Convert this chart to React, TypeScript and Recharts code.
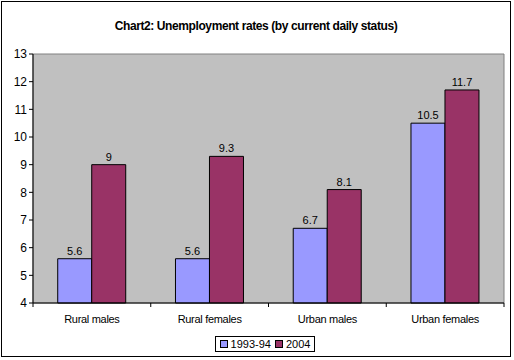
import { BarChart, Bar, XAxis, YAxis, CartesianGrid, ReferenceArea, Legend, LabelList } from "recharts";

const categories = ["Rural males", "Rural females", "Urban males", "Urban females"];
const rates1993 = [5.6, 5.6, 6.7, 10.5];
const rates2004 = [9, 9.3, 8.1, 11.7];
const yTicks = [4, 5, 6, 7, 8, 9, 10, 11, 12, 13];
const seriesNames = ["1993-94", "2004"];
const colors = ["#9999FF", "#993366"];

const data = categories.map((name, i) => ({ name, a: rates1993[i], b: rates2004[i] }));

const FONT = "Arial, 'Liberation Sans', sans-serif";
const PLOT_W = 471;

// category tick with the tick marks drawn at the category boundaries like Excel does
function CatTick(props: any) {
  const { x, y, payload, index } = props;
  const half = PLOT_W / categories.length / 2;
  return (
    <g>
      <line x1={x - half} x2={x - half} y1={y - 8} y2={y - 4} stroke="#000" />
      {index === categories.length - 1 && (
        <line x1={x + half} x2={x + half} y1={y - 8} y2={y - 4} stroke="#000" />
      )}
      <text x={x} y={y + 12} textAnchor="middle" fontSize={11} fontFamily={FONT} fill="#000" letterSpacing={-0.3}>
        {payload.value}
      </text>
    </g>
  );
}

function LegendBox() {
  return (
    <div style={{ display: "flex", justifyContent: "center", paddingLeft: 24 }}>
      <div
        style={{
          border: "1px solid #000",
          padding: "0px 4px",
          display: "flex",
          alignItems: "center",
          gap: 4,
          fontSize: 11,
          fontFamily: FONT,
          lineHeight: "14px",
        }}
      >
        {seriesNames.map((s, i) => (
          <span key={s} style={{ display: "flex", alignItems: "center", gap: 3 }}>
            <span style={{ width: 6, height: 6, background: colors[i], border: "1px solid #000", display: "inline-block" }} />
            {s}
          </span>
        ))}
      </div>
    </div>
  );
}

export default function App() {
  return (
    <div
      style={{
        position: "absolute",
        left: 1,
        top: 1,
        width: 508,
        height: 354,
        border: "1px solid #000",
        background: "#fff",
      }}
    >
      <div
        style={{
          position: "absolute",
          top: 17,
          width: "100%",
          textAlign: "center",
          fontFamily: FONT,
          fontWeight: "bold",
          fontSize: 12,
          letterSpacing: -0.4,
        }}
      >
        Chart2: Unemployment rates (by current daily status)
      </div>
      <BarChart
        width={508}
        height={354}
        data={data}
        margin={{ top: 52, right: 6, left: 0, bottom: 7 }}
        barCategoryGap="21%"
        barGap={0}
      >
        <ReferenceArea y1={4} y2={13} fill="#C0C0C0" fillOpacity={1} stroke="#808080" />
        <CartesianGrid vertical={false} stroke="#000" horizontalValues={[5, 6, 7, 8, 9, 10, 11, 12]} />
        <XAxis
          dataKey="name"
          axisLine={{ stroke: "#000" }}
          tickLine={false}
          tick={<CatTick />}
          interval={0}
        />
        <YAxis
          domain={[4, 13]}
          ticks={yTicks}
          width={31}
          axisLine={{ stroke: "#000" }}
          tickLine={{ stroke: "#000" }}
          tickSize={4}
          tick={{ fontSize: 12, fontFamily: FONT, fill: "#000" }}
        />
        <Legend verticalAlign="bottom" content={<LegendBox />} wrapperStyle={{ bottom: 4 }} />
        <Bar dataKey="a" name={seriesNames[0]} fill={colors[0]} stroke="#000" isAnimationActive={false}>
          <LabelList dataKey="a" position="top" offset={4} fontSize={11} fontFamily={FONT} fill="#000" />
        </Bar>
        <Bar dataKey="b" name={seriesNames[1]} fill={colors[1]} stroke="#000" isAnimationActive={false}>
          <LabelList dataKey="b" position="top" offset={4} fontSize={11} fontFamily={FONT} fill="#000" />
        </Bar>
      </BarChart>
    </div>
  );
}
